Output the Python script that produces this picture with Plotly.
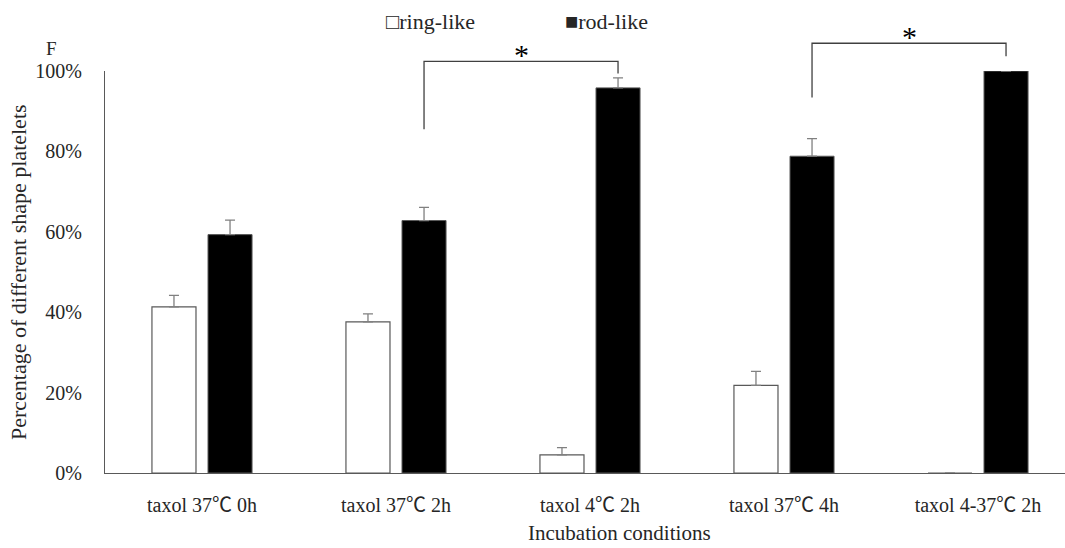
import plotly.graph_objects as go

# Incubation conditions (x categories)
categories = ["taxol 37℃ 0h", "taxol 37℃ 2h", "taxol 4℃ 2h", "taxol 37℃ 4h", "taxol 4-37℃ 2h"]

# Percentage of platelets per shape (mean and upper error)
ring_like = [41.3, 37.6, 4.5, 21.8, 0.0]
ring_like_err = [2.9, 2.0, 1.8, 3.5, 0.0]
rod_like = [59.3, 62.8, 95.8, 78.8, 100.0]
rod_like_err = [3.6, 3.3, 2.5, 4.4, 0.0]

y_ticks = [0, 20, 40, 60, 80, 100]
y_tick_text = ["0%", "20%", "40%", "60%", "80%", "100%"]

# Significance brackets between rod-like bars: (left index, right index, label)
sig_pairs = [(1, 2, "*"), (3, 4, "*")]
# bracket top level and the lower ends of its left/right legs (in % units)
bracket_levels = [(102.4, 85.5, 99.4), (106.9, 93.4, 103.7)]

W, H = 1065, 548
ML, MR, MT, MB = 105, 0, 71, 75
PW, PH = W - ML - MR, H - MT - MB
CAT_PX = 194.0                      # pixel width of one category slot
x_range = [-0.5, -0.5 + PW / CAT_PX]

BAR_W = 0.227
GAP = 0.031
FONT = "Liberation Serif"
CJK = "Noto Sans CJK SC"
TXT = "#262626"


def px_x(px):
    return (px - ML) / PW


def px_y(py):
    return (H - MB - py) / PH


def cjk_degree(label):
    # the Celsius sign is set in a CJK face
    return label.replace("℃", f'<span style="font-family:{CJK}">℃</span>')


fig = go.Figure()

fig.add_trace(go.Bar(
    name="ring-like", x=categories, y=ring_like,
    width=BAR_W, offset=-GAP - BAR_W,
    marker=dict(color="white", line=dict(color="#595959", width=1.2)),
    error_y=dict(type="data", symmetric=False, array=ring_like_err,
                 arrayminus=[0] * len(ring_like), color="#808080",
                 thickness=1.3, width=5, visible=True),
    showlegend=False,
))
fig.add_trace(go.Bar(
    name="rod-like", x=categories, y=rod_like,
    width=BAR_W, offset=GAP,
    marker=dict(color="black", line=dict(color="#595959", width=1)),
    error_y=dict(type="data", symmetric=False, array=rod_like_err,
                 arrayminus=[0] * len(rod_like), color="#808080",
                 thickness=1.3, width=5, visible=True),
    showlegend=False,
))

# brackets above the rod-like bars
rod_center = GAP + BAR_W / 2
shapes = []
annotations = []
for (i0, i1, label), (top, left_end, right_end) in zip(sig_pairs, bracket_levels):
    xa, xb = i0 + rod_center, i1 + rod_center
    path = (f"M {xa},{left_end / 100} L {xa},{top / 100} "
            f"L {xb},{top / 100} L {xb},{right_end / 100}")
    shapes.append(dict(type="path", xref="x", yref="paper", path=path,
                       line=dict(color="#404040", width=1.3)))
    annotations.append(dict(x=(xa + xb) / 2, y=top / 100, xref="x", yref="paper",
                            text=label, showarrow=False, yanchor="bottom",
                            yshift=-12, font=dict(family=FONT, size=30, color="black")))

# legend entries
annotations += [
    dict(x=px_x(384), y=px_y(21), xref="paper", yref="paper", xanchor="left",
         yanchor="middle", showarrow=False, text="□ring-like",
         font=dict(family=FONT, size=22, color=TXT)),
    dict(x=px_x(563), y=px_y(21), xref="paper", yref="paper", xanchor="left",
         yanchor="middle", showarrow=False, text="■rod-like",
         font=dict(family=FONT, size=22, color=TXT)),
    # panel letter
    dict(x=px_x(51), y=px_y(49), xref="paper", yref="paper", xanchor="center",
         yanchor="middle", showarrow=False, text="F",
         font=dict(family=FONT, size=19, color=TXT)),
    # axis titles
    dict(x=px_x(619), y=px_y(533), xref="paper", yref="paper", xanchor="center",
         yanchor="middle", showarrow=False, text="Incubation conditions",
         font=dict(family=FONT, size=21, color=TXT)),
    dict(x=px_x(18), y=0.5, xref="paper", yref="paper", xanchor="center",
         yanchor="middle", showarrow=False, textangle=-90,
         text="Percentage of different shape platelets",
         font=dict(family=FONT, size=22, color=TXT)),
]

fig.update_layout(
    width=W, height=H,
    margin=dict(l=ML, r=MR, t=MT, b=MB, pad=0),
    paper_bgcolor="white", plot_bgcolor="white",
    barmode="group",
    shapes=shapes, annotations=annotations,
    font=dict(family=FONT, color=TXT),
)
fig.update_xaxes(
    type="category", range=x_range, showgrid=False, zeroline=False,
    tickmode="array", tickvals=categories,
    ticktext=[cjk_degree(c) for c in categories],
    showline=True, linecolor="#595959", linewidth=1.2, ticks="",
    tickfont=dict(family=FONT, size=20, color=TXT), ticklabelstandoff=14,
)
fig.update_yaxes(
    range=[0, 100], tickvals=y_ticks, ticktext=y_tick_text,
    showgrid=False, zeroline=False, showline=True, linecolor="#595959",
    linewidth=1.2, ticks="", ticklabelstandoff=18,
    tickfont=dict(family=FONT, size=20, color=TXT),
)

fig.write_html("out.html")
